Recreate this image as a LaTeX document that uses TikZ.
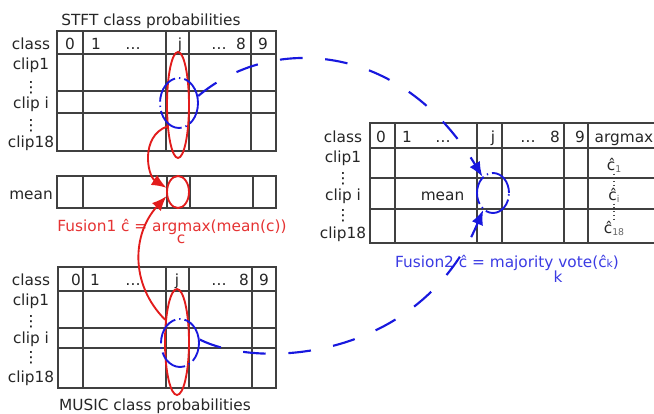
\documentclass[tikz,border=0pt]{standalone}
\usepackage{fontspec}
\setmainfont{DejaVu Sans}
\usetikzlibrary{positioning,calc,shapes.geometric,arrows.meta}
\definecolor{fusred}{RGB}{226,28,28}
\definecolor{fusblue}{RGB}{24,24,222}
\newcommand{\csub}[1]{\raisebox{-1.5pt}{\fontsize{7}{8}\selectfont\color{black!60}#1}}
\tikzset{
  gridline/.style={draw=black!75,line width=0.8pt},
  lab/.style={anchor=base,text=black!85},
  redring/.style={ellipse,draw=fusred,line width=1.4pt,inner sep=0pt},
  bluering/.style={ellipse,draw=fusblue,line width=1.4pt,inner sep=0pt,dash pattern=on 22pt off 3pt on 1pt off 3pt},
  redarrow/.style={draw=fusred,line width=1.4pt,-{Latex[length=11pt,width=9pt]}},
  bluearrow/.style={draw=fusblue,line width=1.6pt,dash pattern=on 17pt off 17pt,-{Latex[length=11pt,width=9pt]}},
}
\begin{document}
\begin{tikzpicture}[x=0.75pt,y=-0.75pt,font=\fontsize{11.5}{13.5}\selectfont]
\useasboundingbox (0,0) rectangle (654,414);
% STFT table (top left)
\draw[gridline] (57,31) rectangle (276,151);
\foreach \xx in {83,166,189,251} {\draw[gridline] (\xx,31) -- (\xx,151);}
\foreach \yy in {54,91,113} {\draw[gridline] (57,\yy) -- (276,\yy);}
\node[lab] (stfttitle) at (151,26) {STFT class probabilities};
\foreach \xx/\tx [count=\k] in {70/0,96/1,133/\dots,180/j,219/\dots,241/8,263/9} {\node[lab] (sh\k) at (\xx,49) {\tx};}
\foreach \yy/\tx/\nm in {49/class/cls,69/clip1/c1,108/clip i/ci,147/clip18/cn} {\node[lab] (s\nm) at (31,\yy) {\tx};}
\node (sv1) at (31,88) {⋮};
\node (sv2) at (31,126) {⋮};
% mean row
\draw[gridline] (57,176) rectangle (276,208);
\foreach \xx in {83,167,190,253} {\draw[gridline] (\xx,176) -- (\xx,208);}
\node[lab] (mlab) at (31,199) {mean};
\node[lab,text=fusred!90] (fus1) at (172,231) {Fusion1 ĉ = argmax(mean(c))};
\node[lab,text=fusred!90] (fus1c) at (181,243) {c};
% MUSIC table (bottom left)
\draw[gridline] (58,267) rectangle (276,388);
\foreach \xx in {83,166,189,252} {\draw[gridline] (\xx,267) -- (\xx,388);}
\foreach \yy in {291,328,348} {\draw[gridline] (58,\yy) -- (276,\yy);}
\node[lab] (musictitle) at (155,410) {MUSIC class probabilities};
\foreach \xx/\tx [count=\k] in {76/0,95/1,133/\dots,177/j,219/\dots,244/8,264/9} {\node[lab] (bh\k) at (\xx,285) {\tx};}
\foreach \yy/\tx/\nm in {285/class/cls,305/clip1/c1,343/clip i/ci,382/clip18/cn} {\node[lab] (b\nm) at (31,\yy) {\tx};}
\node (bv1) at (31,322) {⋮};
\node (bv2) at (31,358) {⋮};
% fused table (right), open at the page edge
\draw[gridline] (654,123) -- (370,123) -- (370,243) -- (654,243);
\foreach \xx in {395,477,502,564,588} {\draw[gridline] (\xx,123) -- (\xx,243);}
\foreach \yy in {148,178,209} {\draw[gridline] (370,\yy) -- (654,\yy);}
\foreach \xx/\tx [count=\k] in {381/0,407/1,443/\dots,493/j,528/\dots,555/8,580/9,624/argmax} {\node[lab] (rh\k) at (\xx,142) {\tx};}
\foreach \yy/\tx/\nm in {142/class/cls,162/clip1/c1,200/clip i/ci,238/clip18/cn} {\node[lab] (r\nm) at (343,\yy) {\tx};}
\node (rv1) at (343,179) {⋮};
\node (rv2) at (343,216) {⋮};
\node[lab,anchor=base east] (rmean) at (469,200) {mean};
\node[lab,inner sep=1pt] (rc1) at (614,170) {ĉ\csub{1}};
\node[lab,inner sep=1pt] (rci) at (614,200) {ĉ\csub{i}};
\node[lab,inner sep=1pt] (rcn) at (614,233) {ĉ\csub{18}};
\draw[dotted,line width=0.8pt,black!70] (rc1) -- (rci);
\draw[dotted,line width=0.8pt,black!70] (rci) -- (rcn);
\node[lab,text=fusblue!85] (fus2) at (507,267) {Fusion2 ĉ = majority vote(ĉ{\fontsize{8}{9}\selectfont k})};
\node[lab,text=fusblue!85] (fus2k) at (558,282) {k};
% column j and row i selections
\node[redring,minimum width=16.5pt,minimum height=79.5pt] (sj) at (178,105) {};
\node[redring,minimum width=16.5pt,minimum height=24pt] (mj) at (178,192) {};
\node[redring,minimum width=18pt,minimum height=79.5pt] (bj) at (177,342) {};
\node[bluering,minimum width=28.5pt,minimum height=37.5pt] (si) at (179,103) {};
\node[bluering,minimum width=28.5pt,minimum height=36pt] (bi) at (180,343) {};
\node[bluering,minimum width=24pt,minimum height=30pt] (ri) at (493,193) {};
% fusion arrows
\draw[redarrow] (sj.243) .. controls +(-27,10) and +(-19,-12) .. (mj.160);
\draw[redarrow] (bj.118) .. controls +(-36,-36) and +(-34,37) .. (mj.200);
\draw[bluearrow] (si.20) .. controls (270,35) and (400,40) .. (ri.123);
\draw[bluearrow] (bi.10) .. controls (260,370) and (420,360) .. (ri.240);
\end{tikzpicture}
\end{document}
